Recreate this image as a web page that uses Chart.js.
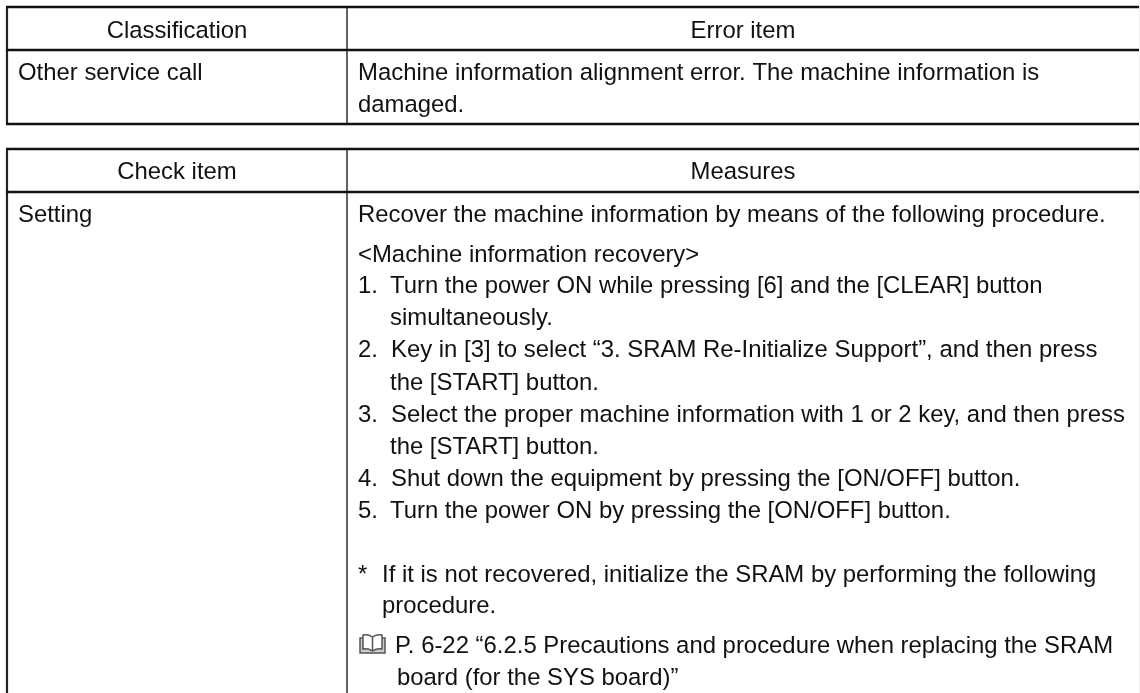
<!DOCTYPE html>
<html>
<head>
<meta charset="utf-8">
<style>
  html, body { margin: 0; padding: 0; background: #fff; overflow: hidden; }
  #wrap { width: 1140px; height: 693px; }
</style>
<script src="https://cdn.jsdelivr.net/npm/chart.js@4"></script>
</head>
<body>
<div id="wrap"><canvas id="chart"></canvas></div>
<script>
// Table text, one list per cell
const topHeaders = ['Classification', 'Error item'];
const checkHeaders = ['Check item', 'Measures'];
const classification = ['Other service call'];
const errorItem = [
  'Machine information alignment error. The machine information is',
  'damaged.'
];
const checkItem = ['Setting'];
const measureMarkers = ['', '', '1.', '', '2.', '', '3.', '', '4.', '5.', '*', '', '', ''];
const measures = [
  'Recover the machine information by means of the following procedure.',
  '<Machine information recovery>',
  'Turn the power ON while pressing [6] and the [CLEAR] button',
  'simultaneously.',
  'Key in [3] to select \u201c3. SRAM Re-Initialize Support\u201d, and then press',
  'the [START] button.',
  'Select the proper machine information with 1 or 2 key, and then press',
  'the [START] button.',
  'Shut down the equipment by pressing the [ON/OFF] button.',
  'Turn the power ON by pressing the [ON/OFF] button.',
  'If it is not recovered, initialize the SRAM by performing the following',
  'procedure.',
  'P. 6-22 \u201c6.2.5 Precautions and procedure when replacing the SRAM',
  'board (for the SYS board)\u201d'
];

// Layout in page pixels: baselines and indents for the lines above
const measureBaselines = [222, 262, 293, 325, 357, 390, 422, 454, 486, 518, 582, 613, 653, 685];
const measureIndents = [358, 358, 390, 390, 391, 390, 391, 390, 391, 390, 382, 382, 395, 397];

const ruleYs = [7, 50, 124, 149, 192];
const colLeft = 7, colSplit = 347, colRight = 1139;
const FONT = '23.9px "Liberation Sans", Arial, sans-serif';

// horizontal and vertical rules as line datasets on the pixel scales
const hRules = ruleYs.map(y => ({
  data: [{ x: colLeft - 1, y }, { x: colRight, y }],
  borderColor: '#111', borderWidth: 2.4, pointRadius: 0
}));
const vRules = [
  [colLeft, 7, 124, 2.2, '#222'], [colSplit, 7, 124, 1.4, '#222'],
  [colLeft, 149, 693, 2.2, '#222'], [colSplit, 149, 693, 1.4, '#222'],
  [1139.5, 0, 693, 1, '#f0f0f0'] // faint page edge on the right
].map(r => ({
  data: [{ x: r[0], y: r[1] }, { x: r[0], y: r[2] }],
  borderColor: r[4], borderWidth: r[3], pointRadius: 0
}));

// open book icon in front of the page reference
function drawBook(ctx, bx, by) {
  ctx.strokeStyle = '#555';
  ctx.fillStyle = '#ccc';
  ctx.lineWidth = 1.5;
  // covers
  ctx.beginPath();
  ctx.rect(bx, by + 4, 25, 15);
  ctx.fill();
  ctx.stroke();
  // pages
  ctx.fillStyle = '#fff';
  ctx.beginPath();
  ctx.moveTo(bx + 12.5, by + 3);
  ctx.quadraticCurveTo(bx + 8, by, bx + 3, by + 1);
  ctx.lineTo(bx + 3, by + 15);
  ctx.quadraticCurveTo(bx + 8, by + 14, bx + 12.5, by + 17);
  ctx.quadraticCurveTo(bx + 17, by + 14, bx + 22, by + 15);
  ctx.lineTo(bx + 22, by + 1);
  ctx.quadraticCurveTo(bx + 17, by, bx + 12.5, by + 3);
  ctx.lineTo(bx + 12.5, by + 17);
  ctx.fill();
  ctx.stroke();
}

// draws the cell text through the scales
const tableText = {
  id: 'tableText',
  afterDatasetsDraw(chart) {
    const { ctx, scales: { x, y } } = chart;
    const put = (s, px, py, align) => {
      ctx.textAlign = align || 'left';
      ctx.fillText(s, x.getPixelForValue(px), y.getPixelForValue(py));
    };
    ctx.save();
    ctx.font = FONT;
    ctx.fillStyle = '#111';
    ctx.textBaseline = 'alphabetic';
    put(topHeaders[0], 177, 38, 'center');
    put(topHeaders[1], 743, 38, 'center');
    put(classification[0], 18, 80);
    put(errorItem[0], 358, 80);
    put(errorItem[1], 358, 112);
    put(checkHeaders[0], 177, 179, 'center');
    put(checkHeaders[1], 743, 179, 'center');
    put(checkItem[0], 18, 222);
    measures.forEach((s, i) => {
      put(s, measureIndents[i], measureBaselines[i]);
      if (measureMarkers[i]) put(measureMarkers[i], 358, measureBaselines[i]);
    });
    drawBook(ctx, x.getPixelForValue(360), y.getPixelForValue(634));
    ctx.restore();
  }
};

new Chart(document.getElementById('chart'), {
  type: 'line',
  data: { datasets: [...hRules, ...vRules] },
  options: {
    responsive: true,
    maintainAspectRatio: false,
    animation: false,
    layout: { padding: 0 },
    plugins: { legend: { display: false }, tooltip: { enabled: false } },
    scales: {
      x: { type: 'linear', min: 0, max: 1140, display: false },
      y: { type: 'linear', min: 0, max: 693, reverse: true, display: false }
    }
  },
  plugins: [tableText]
});
</script>
</body>
</html>
